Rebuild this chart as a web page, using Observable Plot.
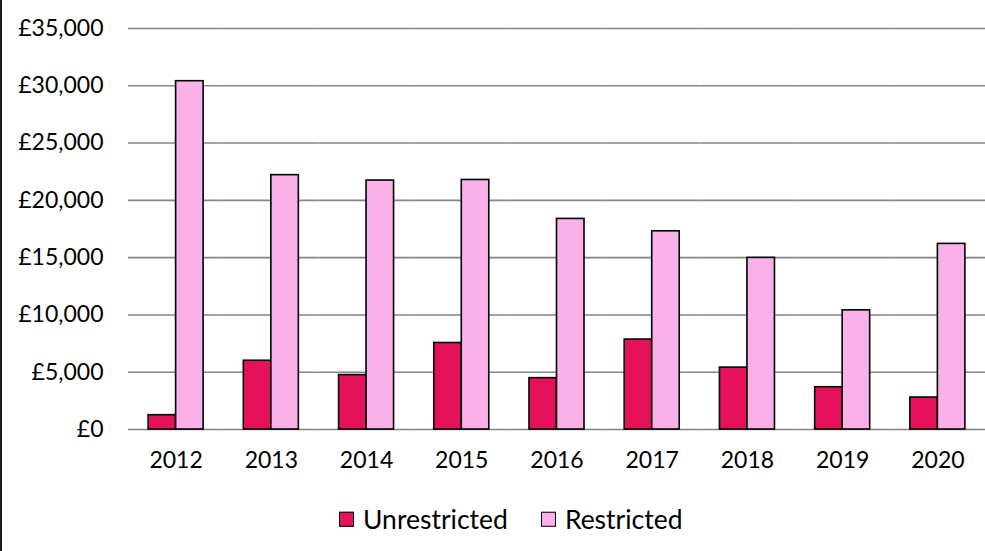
<!DOCTYPE html>
<html>
<head>
<meta charset="utf-8">
<script src="https://cdn.jsdelivr.net/npm/d3@7"></script>
<script src="https://cdn.jsdelivr.net/npm/@observablehq/plot@0.6"></script>
<style>
  html, body { margin: 0; padding: 0; background: #fff; }
  body { width: 985px; height: 551px; overflow: hidden; position: relative; font-family: Lato, "Open Sans", sans-serif; }
  #edge { position: absolute; left: 0; top: 0; width: 2px; height: 551px; background: #1a1a1a; }
  #legend { position: absolute; left: 339px; top: 519px; transform: translateY(-50%); display: flex; align-items: center; font-size: 26.5px; color: #000; line-height: 1; }
  #legend .item { display: flex; align-items: center; }
  #legend .item + .item { margin-left: 33px; }
  #legend .sw { width: 13px; height: 13px; border: 1.5px solid #000; margin-right: 9px; }
</style>
</head>
<body>
<div id="chart"></div>
<div id="legend"></div>
<div id="edge"></div>
<script>
const years = ["2012", "2013", "2014", "2015", "2016", "2017", "2018", "2019", "2020"];
const series = ["Unrestricted", "Restricted"];
const unrestricted = [1250, 6000, 4750, 7550, 4480, 7850, 5400, 3690, 2790];
const restricted = [30400, 22200, 21730, 21780, 18380, 17300, 14980, 10400, 16200];
const colors = ["#e5115b", "#f9b1e8"];
const yTicks = [0, 5000, 10000, 15000, 20000, 25000, 30000, 35000];

const table = [];
years.forEach((y, i) => {
  table.push({year: y, series: series[0], value: unrestricted[i]});
  table.push({year: y, series: series[1], value: restricted[i]});
});

const fmt = d3.format(",");
const chart = Plot.plot({
  width: 985,
  height: 480,
  marginLeft: 128,
  marginRight: 0,
  marginTop: 28,
  marginBottom: 51,
  style: {fontFamily: "Lato, 'Open Sans', sans-serif", fontSize: "23px", color: "#000", background: "transparent"},
  facet: {data: table, x: "year"},
  fx: {domain: years, padding: 0, paddingInner: 0, paddingOuter: 0, round: false, tickSize: 0, tickPadding: 22, label: null, axis: "bottom"},
  x: {domain: series, paddingInner: 0, paddingOuter: 0.731, round: false, axis: null},
  y: {domain: [0, 35000], ticks: yTicks, tickFormat: d => "£" + fmt(d), tickSize: 0, tickPadding: 25, label: null},
  color: {domain: series, range: colors},
  marks: [
    Plot.ruleY(yTicks, {stroke: "#858585", strokeWidth: 1.6}),
    Plot.barY(table, {x: "series", y: "value", fill: "series", stroke: "#000", strokeWidth: 1.6, inset: 0})
  ]
});
document.getElementById("chart").appendChild(chart);

const legend = document.getElementById("legend");
series.forEach((s, i) => {
  const item = document.createElement("div");
  item.className = "item";
  const sw = document.createElement("div");
  sw.className = "sw";
  sw.style.background = colors[i];
  const t = document.createElement("span");
  t.textContent = s;
  item.appendChild(sw);
  item.appendChild(t);
  legend.appendChild(item);
});
</script>
</body>
</html>
